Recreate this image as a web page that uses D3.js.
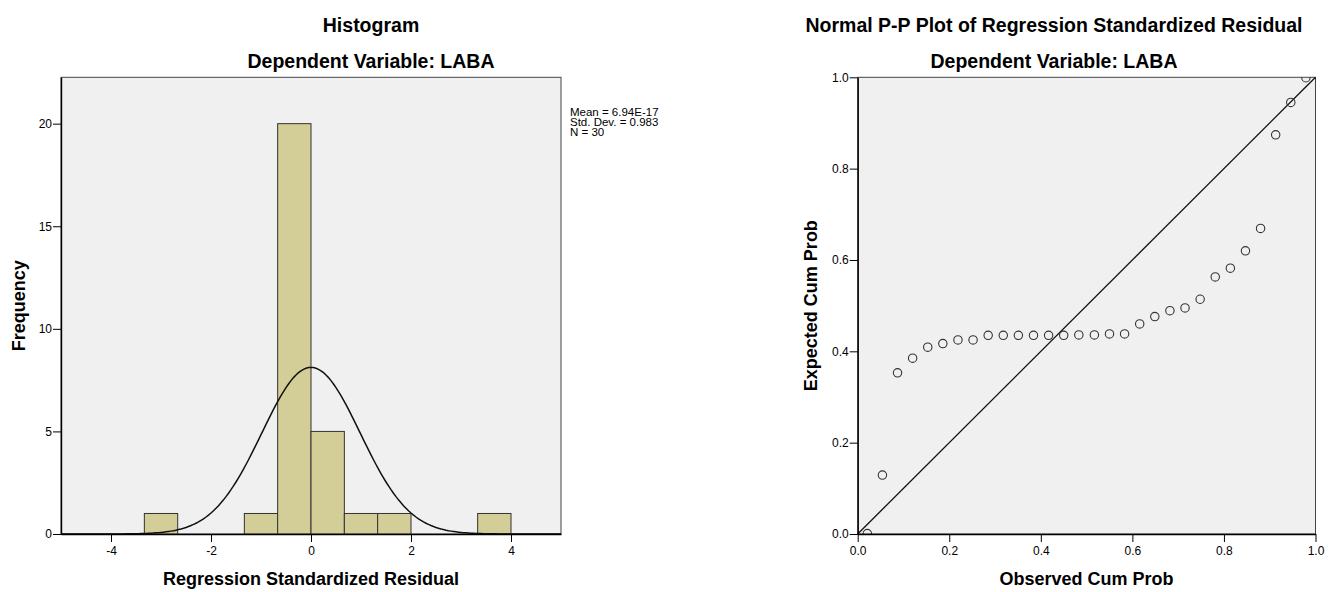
<!DOCTYPE html>
<html>
<head>
<meta charset="utf-8">
<script src="https://cdn.jsdelivr.net/npm/d3@7"></script>
<style>
  body { margin: 0; background: #fff; }
  svg text { font-family: "Liberation Sans", Arial, sans-serif; fill: #000; }
  .tick text { font-size: 12px; }
  .tick line { stroke: #000; }
  .domain { stroke: #000; stroke-width: 1.4px; }
  .title { font-size: 19.5px; font-weight: bold; }
  .axis-title { font-size: 18px; font-weight: bold; }
</style>
</head>
<body>
<div id="chart"></div>
<script>
// histogram of the residuals: lower bin edges (bin width 2/3) and counts
const binLower = [-3.333, -1.333, -0.667, 0, 0.667, 1.333, 3.333];
const binCounts = [1, 1, 20, 5, 1, 1, 1];
const binWidth = 0.667;
const histXTicks = [-4, -2, 0, 2, 4];
const histYTicks = [0, 5, 10, 15, 20];

// summary stats shown next to the histogram
const residMean = 6.94e-17;
const residSd = 0.983;
const residN = 30;
const statLines = ['Mean = 6.94E-17', 'Std. Dev. = 0.983', 'N = 30'];

// P-P plot points
const observedCum = [0.021, 0.054, 0.087, 0.120, 0.153, 0.186, 0.219, 0.252, 0.285, 0.318,
                     0.351, 0.384, 0.417, 0.450, 0.483, 0.517, 0.550, 0.583, 0.616, 0.649,
                     0.682, 0.715, 0.748, 0.781, 0.814, 0.847, 0.880, 0.913, 0.946, 0.979];
const expectedCum = [0.001, 0.129, 0.353, 0.385, 0.409, 0.417, 0.425, 0.425, 0.435, 0.435,
                     0.435, 0.435, 0.435, 0.435, 0.436, 0.436, 0.438, 0.438, 0.460, 0.476,
                     0.489, 0.495, 0.514, 0.563, 0.582, 0.620, 0.669, 0.874, 0.945, 0.999];
const ppTicks = [0, 0.2, 0.4, 0.6, 0.8, 1.0];

const svg = d3.select('#chart').append('svg')
    .attr('width', 1335)
    .attr('height', 592);

class HistogramChart {
    constructor(_config) {
        this.config = {
            left: _config.left, top: _config.top,
            width: _config.width, height: _config.height,
            titleX: _config.titleX
        };
        this.initVis();
    }

    initVis() {
        let vis = this;
        const c = vis.config;

        vis.x = d3.scaleLinear().domain([-5, 5]).range([c.left, c.left + c.width]);
        vis.y = d3.scaleLinear().domain([0, 22.26]).range([c.top + c.height, c.top]);

        // plot background + frame
        svg.append('rect')
            .attr('x', c.left).attr('y', c.top)
            .attr('width', c.width).attr('height', c.height)
            .attr('fill', '#f0f0f0')
            .attr('stroke', '#444')
            .attr('stroke-width', 1);

        vis.renderVis();
    }

    renderVis() {
        let vis = this;
        const c = vis.config;

        svg.append('g')
            .selectAll('rect')
            .data(binLower)
            .join('rect')
            .attr('x', d => vis.x(d))
            .attr('y', (d, i) => vis.y(binCounts[i]))
            .attr('width', d => vis.x(d + binWidth) - vis.x(d))
            .attr('height', (d, i) => vis.y(0) - vis.y(binCounts[i]))
            .attr('fill', '#d3ce97')
            .attr('stroke', '#333')
            .attr('stroke-width', 1);

        // normal curve from mean / sd, scaled to counts
        const scale = residN * binWidth;
        const curve = d3.range(-5, 5.001, 0.05).map(v => [v,
            scale * Math.exp(-0.5 * Math.pow((v - residMean) / residSd, 2)) / (residSd * Math.sqrt(2 * Math.PI))]);
        svg.append('path')
            .datum(curve)
            .attr('fill', 'none')
            .attr('stroke', '#111')
            .attr('stroke-width', 1.5)
            .attr('d', d3.line().x(d => vis.x(d[0])).y(d => vis.y(d[1])));

        // plain hyphen for negatives, like the original
        svg.append('g')
            .attr('transform', `translate(0,${c.top + c.height})`)
            .call(d3.axisBottom(vis.x).tickValues(histXTicks).tickFormat(d => String(d))
                .tickSize(8).tickSizeOuter(0).tickPadding(4));

        svg.append('g')
            .attr('transform', `translate(${c.left},0)`)
            .call(d3.axisLeft(vis.y).tickValues(histYTicks).tickFormat(d => String(d))
                .tickSize(8).tickSizeOuter(0).tickPadding(1));

        svg.append('g').selectAll('text')
            .data(statLines)
            .join('text')
            .attr('x', c.left + c.width + 9)
            .attr('y', (d, i) => 116 + i * 10)
            .style('font-size', '11.5px')
            .text(d => d);

        svg.append('text').attr('class', 'title')
            .attr('x', c.titleX).attr('y', 32)
            .attr('text-anchor', 'middle').text('Histogram');
        svg.append('text').attr('class', 'title')
            .attr('x', c.titleX).attr('y', 68)
            .attr('text-anchor', 'middle').text('Dependent Variable: LABA');

        svg.append('text').attr('class', 'axis-title')
            .attr('x', c.left + c.width / 2).attr('y', 585)
            .attr('text-anchor', 'middle').text('Regression Standardized Residual');
        svg.append('text').attr('class', 'axis-title')
            .attr('transform', `translate(25,${c.top + c.height / 2}) rotate(-90)`)
            .attr('text-anchor', 'middle').text('Frequency');
    }
}

class PPPlot {
    constructor(_config) {
        this.config = {
            left: _config.left, top: _config.top,
            width: _config.width, height: _config.height,
            titleX: _config.titleX
        };
        this.initVis();
    }

    initVis() {
        let vis = this;
        const c = vis.config;

        vis.x = d3.scaleLinear().domain([0, 1]).range([c.left, c.left + c.width]);
        vis.y = d3.scaleLinear().domain([0, 1]).range([c.top + c.height, c.top]);

        svg.append('rect')
            .attr('x', c.left).attr('y', c.top)
            .attr('width', c.width).attr('height', c.height)
            .attr('fill', '#f0f0f0')
            .attr('stroke', '#444')
            .attr('stroke-width', 1);

        svg.append('clipPath').attr('id', 'pp-clip')
            .append('rect')
            .attr('x', c.left).attr('y', c.top)
            .attr('width', c.width).attr('height', c.height);

        vis.renderVis();
    }

    renderVis() {
        let vis = this;
        const c = vis.config;

        // reference diagonal
        svg.append('line')
            .attr('x1', vis.x(0)).attr('y1', vis.y(0))
            .attr('x2', vis.x(1)).attr('y2', vis.y(1))
            .attr('stroke', '#111')
            .attr('stroke-width', 1.3);

        svg.append('g')
            .attr('clip-path', 'url(#pp-clip)')
            .selectAll('circle')
            .data(observedCum)
            .join('circle')
            .attr('cx', d => vis.x(d))
            .attr('cy', (d, i) => vis.y(expectedCum[i]))
            .attr('r', 4.2)
            .attr('fill', 'none')
            .attr('stroke', '#333')
            .attr('stroke-width', 1.1);

        svg.append('g')
            .attr('transform', `translate(0,${c.top + c.height})`)
            .call(d3.axisBottom(vis.x).tickValues(ppTicks).tickFormat(d3.format('.1f'))
                .tickSize(8).tickSizeOuter(0).tickPadding(4));

        svg.append('g')
            .attr('transform', `translate(${c.left},0)`)
            .call(d3.axisLeft(vis.y).tickValues(ppTicks).tickFormat(d3.format('.1f'))
                .tickSize(8).tickSizeOuter(0).tickPadding(1));

        svg.append('text').attr('class', 'title')
            .attr('x', c.titleX).attr('y', 32)
            .attr('text-anchor', 'middle').text('Normal P-P Plot of Regression Standardized Residual');
        svg.append('text').attr('class', 'title')
            .attr('x', c.titleX).attr('y', 68)
            .attr('text-anchor', 'middle').text('Dependent Variable: LABA');

        svg.append('text').attr('class', 'axis-title')
            .attr('x', c.left + c.width / 2).attr('y', 585)
            .attr('text-anchor', 'middle').text('Observed Cum Prob');
        svg.append('text').attr('class', 'axis-title')
            .attr('transform', `translate(817,${c.top + c.height / 2}) rotate(-90)`)
            .attr('text-anchor', 'middle').text('Expected Cum Prob');
    }
}

new HistogramChart({left: 61, top: 77.3, width: 500, height: 456.7, titleX: 371});
new PPPlot({left: 857.7, top: 77.3, width: 457.8, height: 456.7, titleX: 1054});
</script>
</body>
</html>
